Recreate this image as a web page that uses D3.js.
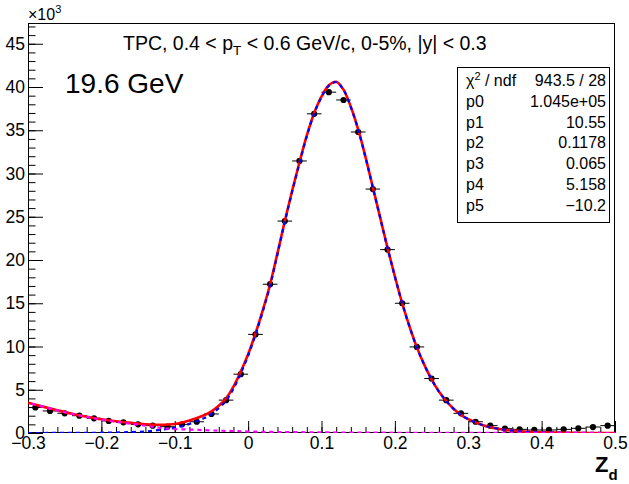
<!DOCTYPE html>
<html>
<head>
<meta charset="utf-8">
<script src="https://cdn.jsdelivr.net/npm/d3@7/dist/d3.min.js"></script>
<style>
  body{margin:0;background:#fff;}
  svg{display:block;font-family:"Liberation Sans",Arial,Helvetica,sans-serif;}
</style>
</head>
<body>
<svg id="chart" width="629" height="484"></svg>
<script>
// histogram bins (Z_d), counts in units of 10^3
const binCenters=[-0.29,-0.27,-0.25,-0.23,-0.21,-0.19,-0.17,-0.15,-0.13,-0.11,
  -0.09,-0.07,-0.05,-0.03,-0.01,0.01,0.03,0.05,0.07,0.09,
  0.11,0.13,0.15,0.17,0.19,0.21,0.23,0.25,0.27,0.29,
  0.31,0.33,0.35,0.37,0.39,0.41,0.43,0.45,0.47,0.49];
const counts=[2.95,2.55,2.28,2.0,1.7,1.4,1.23,1.0,0.85,0.73,
  1.0,1.3,2.2,3.8,6.8,11.4,17.2,24.5,31.45,36.9,
  39.4,38.5,34.8,28.2,21.2,15.0,9.95,6.3,3.8,2.27,
  1.3,0.85,0.5,0.42,0.35,0.35,0.42,0.54,0.69,0.85];
const binHalfWidth=0.01;

// fit curves
const fitX=[-0.30,-0.28,-0.26,-0.24,-0.22,-0.20,-0.18,-0.16,-0.14,-0.12,-0.10,-0.08,-0.06,-0.05,-0.04,-0.03,-0.02,-0.01,
  0.00,0.01,0.02,0.03,0.04,0.05,0.06,0.07,0.08,0.09,0.10,0.11,0.12,0.13,0.14,0.15,0.16,0.17,0.18,0.19,0.20,
  0.21,0.22,0.23,0.24,0.25,0.26,0.27,0.28,0.29,0.30,0.32,0.34,0.36,0.38,0.40,0.44,0.50];
const totalFit=[3.50,3.05,2.62,2.22,1.88,1.58,1.35,1.17,1.02,0.95,1.05,1.45,2.05,2.50,3.15,4.00,5.35,7.10,
  9.10,11.5,14.2,17.2,20.8,24.5,28.0,31.3,34.4,37.0,38.9,40.2,40.6,39.7,37.7,35.1,31.9,28.4,24.9,21.4,18.1,
  15.0,12.3,9.9,7.9,6.2,4.8,3.7,2.8,2.1,1.6,0.9,0.5,0.27,0.14,0.07,0.02,0.0];
const signalFit=[0.0,0.0,0.01,0.01,0.02,0.03,0.06,0.10,0.18,0.35,0.60,1.05,1.72,2.2,2.88,3.75,5.12,6.9,
  8.93,11.35,14.05,17.06,20.68,24.39,27.9,31.21,34.32,36.93,38.84,40.15,40.55,39.66,37.66,35.06,31.87,28.37,24.87,21.38,18.08,
  14.98,12.28,9.89,7.89,6.19,4.79,3.69,2.79,2.09,1.59,0.9,0.5,0.27,0.14,0.07,0.02,0.0];
const bgX=[-0.30,-0.28,-0.26,-0.24,-0.22,-0.20,-0.18,-0.16,-0.14,-0.12,-0.10,-0.08,-0.06,-0.04,-0.02,0.00,0.04,0.10,0.20,0.30,0.50];
const bgFit=[3.50,3.05,2.61,2.21,1.86,1.55,1.29,1.07,0.84,0.60,0.45,0.40,0.33,0.27,0.23,0.17,0.12,0.07,0.03,0.01,0.0];

// axis ticks
const xMajorTicks=[-0.3,-0.2,-0.1,0,0.1,0.2,0.3,0.4,0.5];
const xTickLabels=["\u22120.3","\u22120.2","\u22120.1","0","0.1","0.2","0.3","0.4","0.5"];
const yMajorTicks=[0,5,10,15,20,25,30,35,40,45];
const yTickLabels=["0","5","10","15","20","25","30","35","40","45"];

// fit results box
const statLabels=["p0","p1","p2","p3","p4","p5"];
const statValues=["1.045e+05","10.55","0.1178","0.065","5.158","\u221210.2"];
const chi2Text="943.5 / 28";

const svg=d3.select("#chart");
const m={left:28,right:14,top:23,bottom:51};
const W=629,H=484;

const x=d3.scaleLinear().domain([-0.3,0.5]).range([m.left,W-m.right]);
const y=d3.scaleLinear().domain([0,47.4]).range([H-m.bottom,m.top]);

svg.append("defs").append("clipPath").attr("id","plotclip")
  .append("rect").attr("x",m.left).attr("y",m.top)
  .attr("width",W-m.left-m.right).attr("height",H-m.top-m.bottom);

// axes: ROOT-style inward ticks
const xMinor=svg.append("g").attr("transform",`translate(0,${H-m.bottom})`)
  .call(d3.axisBottom(x).ticks(40).tickSize(-6).tickFormat(""));
const xMajor=svg.append("g").attr("transform",`translate(0,${H-m.bottom})`)
  .call(d3.axisBottom(x).tickValues(xMajorTicks).tickSize(-12).tickPadding(4)
    .tickFormat((d,i)=>xTickLabels[i]));
const yMinor=svg.append("g").attr("transform",`translate(${m.left},0)`)
  .call(d3.axisLeft(y).ticks(47).tickSize(-7.5).tickFormat(""));
const yMajor=svg.append("g").attr("transform",`translate(${m.left},0)`)
  .call(d3.axisLeft(y).tickValues(yMajorTicks).tickSize(-15).tickPadding(3)
    .tickFormat((d,i)=>yTickLabels[i]));

[xMinor,xMajor,yMinor,yMajor].forEach(g=>{
  g.select(".domain").remove();
  g.selectAll(".tick line").attr("stroke","#000").attr("stroke-width",1);
  g.selectAll(".tick text").attr("fill","#000").attr("font-size","17.5px")
    .attr("font-family","Liberation Sans, Arial, Helvetica, sans-serif");
});

// frame
svg.append("rect").attr("x",m.left+0.5).attr("y",m.top+0.5)
  .attr("width",W-m.left-m.right-1).attr("height",H-m.top-m.bottom-1)
  .attr("fill","none").attr("stroke","#000").attr("stroke-width",1);

// data points with x error bars
const pts=svg.append("g");
pts.selectAll("line.xerr").data(binCenters).enter().append("line")
  .attr("class","xerr")
  .attr("x1",d=>x(d-binHalfWidth)).attr("x2",d=>x(d+binHalfWidth))
  .attr("y1",(d,i)=>y(counts[i])).attr("y2",(d,i)=>y(counts[i]))
  .attr("stroke","#000").attr("stroke-width",1);
pts.selectAll("circle").data(binCenters).enter().append("circle")
  .attr("cx",d=>x(d)).attr("cy",(d,i)=>y(counts[i])).attr("r",3.1)
  .attr("fill","#000");

// fit curves
const curves=svg.append("g").attr("clip-path","url(#plotclip)");
const line=d3.line().x(d=>x(d[0])).y(d=>y(d[1])).curve(d3.curveCatmullRom.alpha(0.5));
curves.append("path").datum(fitX.map((v,i)=>[v,totalFit[i]]))
  .attr("d",line).attr("fill","none").attr("stroke","#ff0000").attr("stroke-width",2.6);
curves.append("path").datum(fitX.map((v,i)=>[v,signalFit[i]]))
  .attr("d",line).attr("fill","none").attr("stroke","#0000ff").attr("stroke-width",2.2)
  .attr("stroke-dasharray","4,4");
curves.append("path").datum(bgX.map((v,i)=>[v,bgFit[i]]))
  .attr("d",line).attr("fill","none").attr("stroke","#ff00ff").attr("stroke-width",2.2)
  .attr("stroke-dasharray","4,4").attr("stroke-dashoffset",4);

// y multiplier
const mult=svg.append("text").attr("x",m.left).attr("y",20).attr("font-size","16px").attr("fill","#000");
mult.append("tspan").text("\u00d710");
mult.append("tspan").attr("font-size","11px").attr("dy","-7").text("3");

// x axis title
const xt=svg.append("text").attr("x",595).attr("y",472).attr("font-weight","bold")
  .attr("font-size","22px").attr("fill","#000");
xt.append("tspan").text("Z");
xt.append("tspan").attr("font-size","15px").attr("dy","8").text("d");

// header
const title=svg.append("text").attr("x",123).attr("y",50).attr("font-size","19.5px").attr("fill","#000");
title.append("tspan").text("TPC, 0.4 < p");
title.append("tspan").attr("font-size","13.5px").attr("dy","5").text("T");
title.append("tspan").attr("dy","-5").text(" < 0.6 GeV/c, 0-5%, |y| < 0.3");

svg.append("text").attr("x",65).attr("y",93).attr("font-size","28px").attr("fill","#000")
  .text("19.6 GeV");

// stats box
const box={x0:457.5,y0:67.5,x1:609.5,y1:222.5};
const sb=svg.append("g");
sb.append("rect").attr("x",box.x0).attr("y",box.y0)
  .attr("width",box.x1-box.x0).attr("height",box.y1-box.y0)
  .attr("fill","#fff").attr("stroke","#000").attr("stroke-width",1);
const rowY=i=>86+i*20.8;
const chi=sb.append("text").attr("x",466).attr("y",rowY(0)).attr("font-size","16px").attr("fill","#000");
chi.append("tspan").text("\u03c7");
chi.append("tspan").attr("font-size","11px").attr("dy","-6").text("2");
chi.append("tspan").attr("dy","6").text(" / ndf");
sb.append("text").attr("x",606).attr("y",rowY(0)).attr("text-anchor","end")
  .attr("font-size","16px").attr("fill","#000").text(chi2Text);
sb.selectAll("text.lab").data(statLabels).enter().append("text").attr("class","lab")
  .attr("x",466).attr("y",(d,i)=>rowY(i+1)).attr("font-size","16px").attr("fill","#000").text(d=>d);
sb.selectAll("text.val").data(statValues).enter().append("text").attr("class","val")
  .attr("x",606).attr("y",(d,i)=>rowY(i+1)).attr("text-anchor","end")
  .attr("font-size","16px").attr("fill","#000").text(d=>d);
</script>
</body>
</html>
